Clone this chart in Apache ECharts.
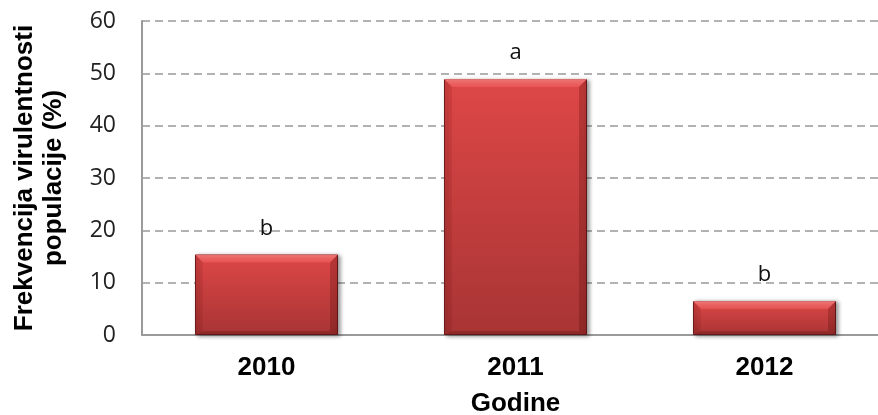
<!DOCTYPE html>
<html>
<head>
<meta charset="utf-8">
<script src="https://cdn.jsdelivr.net/npm/echarts@6/dist/echarts.min.js"></script>
<style>
  html, body { margin: 0; padding: 0; background: #fff; }
  #chart { width: 878px; height: 415px; }
</style>
</head>
<body>
<div id="chart"></div>
<script>
var years = ['2010', '2011', '2012']
var frequency = [15.4, 48.9, 6.5]
var letters = ['b', 'a', 'b']

var BAR_W = 143
var BEVEL = 8

var myChart = echarts.init(document.getElementById('chart'))

// bevel overlay drawn on top of each bar (light top edge, darker sides)
function renderBevel (params, api) {
  var top = api.coord([api.value(0), api.value(1)])
  var base = api.coord([api.value(0), 0])
  var x0 = top[0] - BAR_W / 2
  var x1 = top[0] + BAR_W / 2
  var y0 = top[1]
  var y1 = base[1]
  var b = Math.min(BEVEL, (y1 - y0) / 2)
  return {
    type: 'group',
    silent: true,
    children: [
      {
        type: 'polygon',
        shape: { points: [[x0, y0], [x1, y0], [x1 - b, y0 + b], [x0 + b, y0 + b]] },
        style: {
          fill: new echarts.graphic.LinearGradient(0, 0, 0, 1, [
            { offset: 0, color: 'rgba(255,140,140,0.75)' },
            { offset: 1, color: 'rgba(255,110,110,0.35)' }
          ])
        }
      },
      {
        type: 'polygon',
        shape: { points: [[x0, y0], [x0 + b, y0 + b], [x0 + b, y1 - b / 2], [x0, y1]] },
        style: { fill: 'rgba(120,20,20,0.12)' }
      },
      {
        type: 'polygon',
        shape: { points: [[x1, y0], [x1 - b, y0 + b], [x1 - b, y1 - b / 2], [x1, y1]] },
        style: { fill: 'rgba(60,0,0,0.22)' }
      },
      {
        type: 'polygon',
        shape: { points: [[x0, y1], [x0 + b, y1 - b / 2], [x1 - b, y1 - b / 2], [x1, y1]] },
        style: { fill: 'rgba(60,0,0,0.18)' }
      }
    ]
  }
}

var option = {
  backgroundColor: '#fff',
  animation: false,
  grid: {
    left: 142,
    top: 21,
    width: 747,
    height: 314,
    containLabel: false,
    outerBoundsMode: 'none'
  },
  xAxis: {
    type: 'category',
    data: years,
    name: 'Godine',
    nameLocation: 'middle',
    nameGap: 56,
    nameTextStyle: {
      fontFamily: 'Liberation Sans',
      fontWeight: 'bold',
      fontSize: 26,
      color: '#000'
    },
    axisLine: { lineStyle: { color: '#9a9a9a', width: 2 } },
    axisTick: { show: false },
    axisLabel: {
      margin: 20,
      fontFamily: 'Liberation Sans',
      fontWeight: 'bold',
      fontSize: 26,
      color: '#000'
    }
  },
  yAxis: {
    type: 'value',
    min: 0,
    max: 60,
    interval: 10,
    name: 'Frekvencija virulentnosti\npopulacije (%)',
    nameLocation: 'middle',
    nameRotate: 90,
    nameGap: 74,
    nameTextStyle: {
      fontFamily: 'Liberation Sans',
      fontWeight: 'bold',
      fontSize: 26,
      lineHeight: 29,
      color: '#000'
    },
    axisLine: { show: true, lineStyle: { color: '#9a9a9a', width: 2 } },
    axisTick: { show: false },
    axisLabel: {
      margin: 26,
      fontFamily: 'Open Sans',
      fontSize: 23,
      color: '#222'
    },
    splitLine: {
      lineStyle: { color: '#999', width: 1.5, type: [8, 5] }
    }
  },
  series: [
    {
      type: 'bar',
      data: frequency,
      barWidth: BAR_W,
      itemStyle: {
        color: new echarts.graphic.LinearGradient(0, 0, 0, 1, [
          { offset: 0, color: '#de4747' },
          { offset: 1, color: '#a83434' }
        ]),
        borderColor: '#6e1c1c',
        borderWidth: 1,
        shadowBlur: 4,
        shadowColor: 'rgba(0,0,0,0.4)',
        shadowOffsetX: 2,
        shadowOffsetY: 1
      },
      label: {
        show: true,
        position: 'top',
        distance: 15,
        fontFamily: 'Open Sans',
        fontSize: 22,
        color: '#111',
        formatter: function (p) {
          return letters[p.dataIndex]
        }
      }
    },
    {
      type: 'custom',
      renderItem: renderBevel,
      data: frequency.map(function (v, i) { return [i, v] }),
      z: 3,
      silent: true,
      tooltip: { show: false }
    }
  ]
}

myChart.setOption(option)
</script>
</body>
</html>
